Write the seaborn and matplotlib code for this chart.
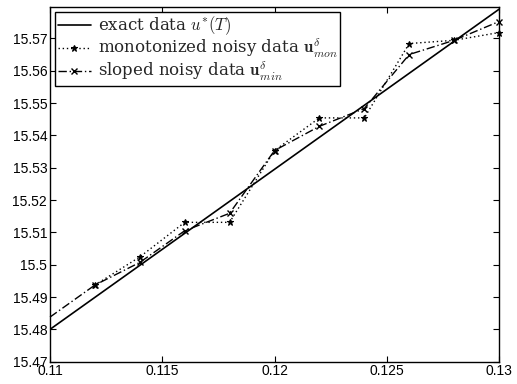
import matplotlib
matplotlib.use("Agg")
import matplotlib.pyplot as plt
import seaborn as sns
import pandas as pd

# ---- data ----
x_exact = [0.110, 0.112, 0.114, 0.116, 0.118, 0.120, 0.122, 0.124, 0.126, 0.128, 0.130]
u_exact = [15.4800, 15.4899, 15.4998, 15.5097, 15.5196, 15.5295, 15.5394, 15.5493, 15.5592, 15.5691, 15.5790]

x_mon = [0.112, 0.114, 0.116, 0.118, 0.120, 0.122, 0.124, 0.126, 0.128, 0.130]
u_mon = [15.4937, 15.5024, 15.5131, 15.5131, 15.5353, 15.5454, 15.5454, 15.5684, 15.5694, 15.5718]

x_min = [0.110, 0.112, 0.114, 0.116, 0.118, 0.120, 0.122, 0.124, 0.126, 0.128, 0.130]
u_min = [15.4838, 15.4937, 15.5007, 15.5105, 15.5159, 15.5353, 15.5428, 15.5483, 15.5650, 15.5694, 15.5752]

labels = [r"exact data $u^{*}(T)$",
          r"monotonized noisy data $\mathbf{u}^{\delta}_{mon}$",
          r"sloped noisy data $\mathbf{u}^{\delta}_{min}$"]

xticks = [0.11, 0.115, 0.12, 0.125, 0.13]
xticklabels = ["0.11", "0.115", "0.12", "0.125", "0.13"]
yticks = [15.47, 15.48, 15.49, 15.50, 15.51, 15.52, 15.53, 15.54, 15.55, 15.56, 15.57]
yticklabels = ["15.47", "15.48", "15.49", "15.5", "15.51", "15.52", "15.53",
               "15.54", "15.55", "15.56", "15.57"]

sns.set_style("ticks")
plt.rcParams["font.family"] = ["Liberation Sans", "DejaVu Sans"]
plt.rcParams["mathtext.fontset"] = "cm"

fig = plt.figure(figsize=(5.17, 3.84), dpi=100)
ax = fig.add_axes([50 / 517, 1 - 361.7 / 384, 449 / 517, (361.7 - 7) / 384])

df_exact = pd.DataFrame({"x": x_exact, "u": u_exact})
df_mon = pd.DataFrame({"x": x_mon, "u": u_mon})
df_min = pd.DataFrame({"x": x_min, "u": u_min})

sns.lineplot(data=df_exact, x="x", y="u", ax=ax, color="black", lw=1.2,
             label=labels[0], sort=False)
sns.lineplot(data=df_mon, x="x", y="u", ax=ax, color="black", lw=1.0,
             linestyle=(0, (1, 2)), marker="*", markersize=5, markeredgewidth=0.8,
             markeredgecolor="black", markerfacecolor="black",
             label=labels[1], sort=False, clip_on=False)
sns.lineplot(data=df_min, x="x", y="u", ax=ax, color="black", lw=1.0,
             linestyle=(0, (6, 2, 1, 2)), marker="x", markersize=4.5, markeredgewidth=1.0,
             markeredgecolor="black",
             markevery=list(range(1, len(x_min))), label=labels[2], sort=False, clip_on=False)

ax.set_xlim(0.11, 0.13)
ax.set_ylim(15.47, 15.5797)
ax.set_xticks(xticks)
ax.set_xticklabels(xticklabels)
ax.set_yticks(yticks)
ax.set_yticklabels(yticklabels)
ax.set_xlabel("")
ax.set_ylabel("")
ax.tick_params(direction="in", length=4, width=0.8, top=True, right=True,
               labelsize=10, colors="black", pad=2)
for s in ax.spines.values():
    s.set_visible(True)
    s.set_color("black")
    s.set_linewidth(1.0)

leg = ax.legend(loc="upper left", frameon=True, fancybox=False, edgecolor="black",
                framealpha=1, borderaxespad=0.3, handlelength=2.0, handletextpad=0.4,
                labelspacing=0.0, borderpad=0.15,
                prop={"family": ["DejaVu Serif"], "size": 12})
leg.get_frame().set_linewidth(1.0)

fig.savefig("out.png", dpi=100)
